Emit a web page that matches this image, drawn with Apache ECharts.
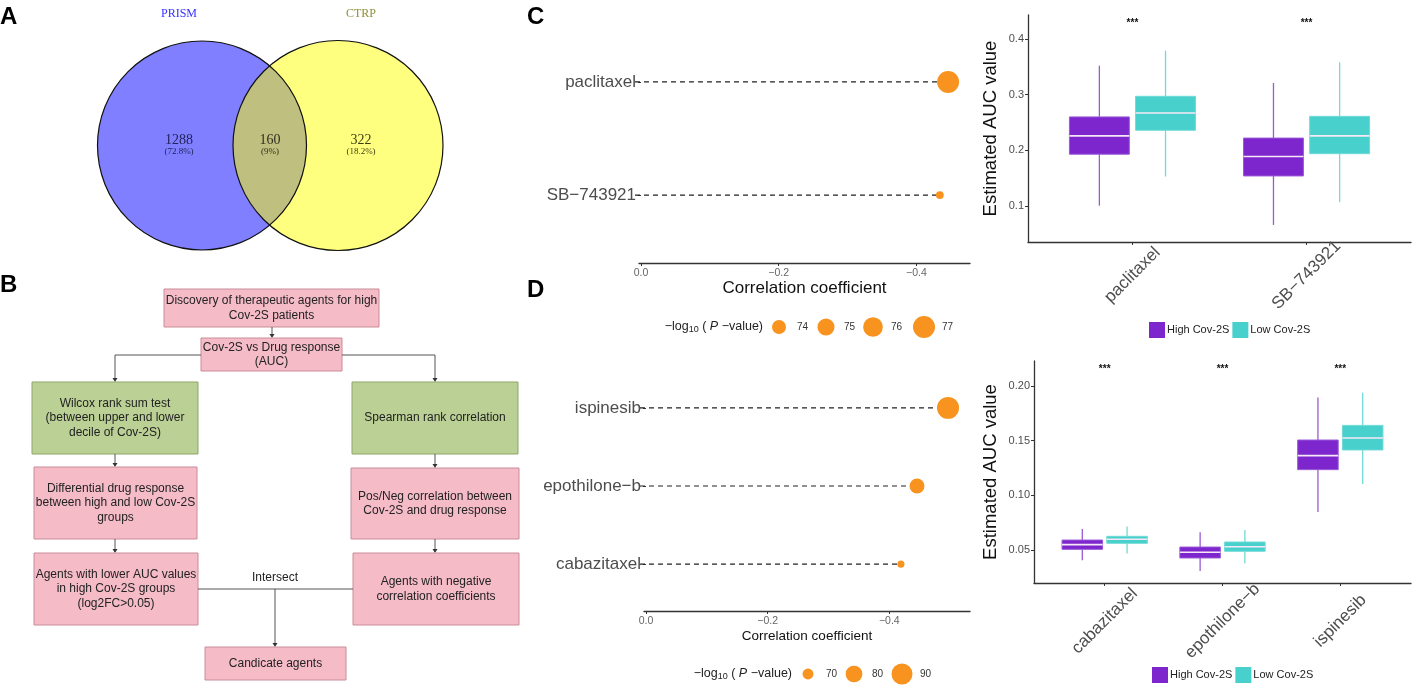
<!DOCTYPE html>
<html><head><meta charset="utf-8">
<script src="https://cdn.jsdelivr.net/npm/echarts@6/dist/echarts.min.js"></script>
<style>html,body{margin:0;padding:0;background:#fff}#c{width:1417px;height:690px}</style>
</head><body><div id="c"></div>
<script>
// ---------- DATA ----------
const vennSets = ['PRISM', 'CTRP'];
const vennCounts = [1288, 160, 322];
const vennPct = ['(72.8%)', '(9%)', '(18.2%)'];

const flowTop = ['Discovery of therapeutic agents for high', 'Cov-2S patients'];
const flowSecond = ['Cov-2S vs Drug response', '(AUC)'];
const flowLeft = [
  ['Wilcox rank sum test', '(between upper and lower', 'decile of Cov-2S)'],
  ['Differential drug response', 'between high and low Cov-2S', 'groups'],
  ['Agents with lower AUC values', 'in high Cov-2S groups', '(log2FC>0.05)']
];
const flowRight = [
  ['Spearman rank correlation'],
  ['Pos/Neg correlation between', 'Cov-2S and drug response'],
  ['Agents with negative', 'correlation coefficients']
];
const flowJoin = 'Intersect';
const flowEnd = ['Candicate agents'];

const corrDrugsC = ['SB\u2212743921', 'paclitaxel'];
const corrValsC = [-0.434, -0.446];
const logPC = [72.6, 77.0];
const sizeLegendC = [74, 75, 76, 77];

const corrDrugsD = ['cabazitaxel', 'epothilone\u2212b', 'ispinesib'];
const corrValsD = [-0.419, -0.4455, -0.4965];
const logPD = [65.6, 76.6, 92.7];
const sizeLegendD = [70, 80, 90];
const corrTicks = [0, -0.2, -0.4];

const groups = ['High Cov-2S', 'Low Cov-2S'];
// [min, q1, median, q3, max]
const boxDrugsC = ['paclitaxel', 'SB\u2212743921'];
const boxHighC = [[0.1006, 0.193, 0.226, 0.260, 0.352], [0.066, 0.154, 0.189, 0.222, 0.321]];
const boxLowC  = [[0.153, 0.236, 0.267, 0.297, 0.379], [0.107, 0.194, 0.226, 0.261, 0.358]];
const signifC = ['***', '***'];
const yTicksC = [0.1, 0.2, 0.3, 0.4];

const boxDrugsD = ['cabazitaxel', 'epothilone\u2212b', 'ispinesib'];
const boxHighD = [[0.0405, 0.0506, 0.0549, 0.0591, 0.0692], [0.0308, 0.0427, 0.0479, 0.0527, 0.0662], [0.0848, 0.1235, 0.1363, 0.1506, 0.1896]];
const boxLowD  = [[0.0467, 0.0561, 0.0598, 0.0625, 0.0716], [0.0378, 0.0488, 0.0530, 0.0573, 0.0683], [0.1104, 0.1415, 0.1524, 0.1640, 0.1939]];
const signifD = ['***', '***', '***'];
const yTicksD = [0.05, 0.10, 0.15, 0.20];

// ---------- STYLE ----------
const SANS = 'Liberation Sans, Arial, sans-serif';
const SERIF = 'Liberation Serif, DejaVu Serif, serif';
const ORANGE = '#F7931E';
const PURPLE = '#7D26CD', PURPLE_EDGE = '#9A5AD6';
const TURQ = '#48D1CC', TURQ_EDGE = '#6FDAD6';
const PINK = '#F5BCC8', PINK_EDGE = '#C98C99';
const GREEN = '#BBD095', GREEN_EDGE = '#8EA767';
const LINE = '#555';
const GREY_TXT = '#4D4D4D';

const chart = echarts.init(document.getElementById('c'), null, {renderer: 'canvas'});

// ---------- GRAPHIC: letters, venn, flowchart, size legends ----------
const g = [];
function letter(t, x, y) {
  g.push({type: 'text', x, y, style: {text: t, font: 'bold 24px ' + SANS, fill: '#000', align: 'left', verticalAlign: 'top'}});
}
letter('A', 0, 5); letter('B', 0, 273); letter('C', 527, 5); letter('D', 527, 278);

// Venn
const vc = [[202, 145.5, 104.5], [338, 145.5, 105]];
g.push({type: 'circle', shape: {cx: vc[0][0], cy: vc[0][1], r: vc[0][2]}, style: {fill: 'rgba(0,0,255,0.5)', stroke: null}});
g.push({type: 'circle', shape: {cx: vc[1][0], cy: vc[1][1], r: vc[1][2]}, style: {fill: 'rgba(255,255,0,0.5)', stroke: null}});
vc.forEach(c => g.push({type: 'circle', shape: {cx: c[0], cy: c[1], r: c[2]}, style: {fill: null, stroke: '#111', lineWidth: 1.2}}));
const vennTitleCol = ['#3333ff', '#8f8f3a'];
g.push({type: 'text', x: 179, y: 14, style: {text: vennSets[0], font: '12px ' + SERIF, fill: vennTitleCol[0], align: 'center', verticalAlign: 'middle'}});
g.push({type: 'text', x: 361, y: 14, style: {text: vennSets[1], font: '12px ' + SERIF, fill: vennTitleCol[1], align: 'center', verticalAlign: 'middle'}});
const vennX = [179, 270, 361];
const vennNumCol = ['#22225a', '#2f2f1e', '#3d3d14'];
vennCounts.forEach((n, i) => {
  g.push({type: 'text', x: vennX[i], y: 140, style: {text: String(n), font: '14px ' + SERIF, fill: vennNumCol[i], align: 'center', verticalAlign: 'middle'}});
  g.push({type: 'text', x: vennX[i], y: 151.5, style: {text: vennPct[i], font: '9px ' + SERIF, fill: vennNumCol[i], align: 'center', verticalAlign: 'middle'}});
});

// Flowchart
function box(x1, y1, x2, y2, fill, stroke, lines) {
  g.push({type: 'rect', shape: {x: x1, y: y1, width: x2 - x1, height: y2 - y1}, style: {fill, stroke, lineWidth: 1}});
  g.push({type: 'text', x: (x1 + x2) / 2, y: (y1 + y2) / 2, style: {text: lines.join('\n'), font: '12px ' + SANS, fill: '#222', align: 'center', verticalAlign: 'middle', lineHeight: 14.5}});
}
function seg(x1, y1, x2, y2) {
  g.push({type: 'line', shape: {x1, y1, x2, y2}, style: {stroke: LINE, lineWidth: 1}});
}
function arrowDown(x, y1, y2) {
  seg(x, y1, x, y2 - 3);
  g.push({type: 'polygon', shape: {points: [[x - 2.5, y2 - 4], [x + 2.5, y2 - 4], [x, y2]]}, style: {fill: '#333'}});
}
box(164, 289, 379, 327, PINK, PINK_EDGE, flowTop);
arrowDown(272, 327, 338);
box(201, 338, 342, 371, PINK, PINK_EDGE, flowSecond);
seg(201, 355, 115, 355); arrowDown(115, 355, 382);
seg(342, 355, 435, 355); arrowDown(435, 355, 382);
box(32, 382, 198, 454, GREEN, GREEN_EDGE, flowLeft[0]);
box(352, 382, 518, 454, GREEN, GREEN_EDGE, flowRight[0]);
arrowDown(115, 454, 467); arrowDown(435, 454, 468);
box(34, 467, 197, 539, PINK, PINK_EDGE, flowLeft[1]);
box(351, 468, 519, 539, PINK, PINK_EDGE, flowRight[1]);
arrowDown(115, 539, 553); arrowDown(435, 539, 553);
box(34, 553, 198, 625, PINK, PINK_EDGE, flowLeft[2]);
box(353, 553, 519, 625, PINK, PINK_EDGE, flowRight[2]);
seg(198, 589, 353, 589);
arrowDown(275, 589, 647);
g.push({type: 'text', x: 275, y: 578, style: {text: flowJoin, font: '12px ' + SANS, fill: '#222', align: 'center', verticalAlign: 'middle'}});
box(205, 647, 346, 680, PINK, PINK_EDGE, flowEnd);

// size legends
const rC = v => Math.sqrt(Math.max(4, 49 + 24 * (v - 74)));
const rD = v => Math.sqrt(Math.max(4, 30 + 4 * (v - 70)));
const legRich = {n: {fontSize: 12.5, fontFamily: SANS, fill: '#222'}, s: {fontSize: 9, fontFamily: SANS, fill: '#222', padding: [6, 0, 0, 0]}, i: {fontSize: 12.5, fontFamily: SANS, fontStyle: 'italic', fill: '#222'}};
const legText = '{n|\u2212log}{s|10}{n| ( }{i|P}{n| \u2212value)}';
function sizeLegend(vals, rfun, titleRight, y, xs) {
  g.push({type: 'text', x: titleRight, y, style: {text: legText, align: 'right', verticalAlign: 'middle', rich: legRich}});
  vals.forEach((v, i) => {
    g.push({type: 'circle', shape: {cx: xs[i], cy: y, r: rfun(v)}, style: {fill: ORANGE}});
    g.push({type: 'text', x: xs[i] + 23.5, y, style: {text: String(v), font: '10px ' + SANS, fill: '#333', align: 'center', verticalAlign: 'middle'}});
  });
}
sizeLegend(sizeLegendC, rC, 763, 327, [779, 826, 873, 924]);
sizeLegend(sizeLegendD, rD, 792, 674, [808, 854, 902]);

// ---------- AXES ----------
const corrFmt = v => (Math.abs(v) < 1e-9 ? '0.0' : (v < 0 ? '\u2212' : '') + Math.abs(v).toFixed(1));

function corrX(gi, min, max, nameSize, nameGap) {
  return {type: 'value', gridIndex: gi, inverse: true, min, max,
    axisLine: {show: true, lineStyle: {color: '#333', width: 1.3}},
    axisTick: {show: true, customValues: corrTicks, length: 3, lineStyle: {color: '#333'}},
    axisLabel: {customValues: corrTicks, formatter: corrFmt, color: '#666', fontSize: 10.5, fontFamily: SANS, margin: 5},
    splitLine: {show: false},
    name: 'Correlation coefficient', nameLocation: 'middle', nameGap,
    nameTextStyle: {fontSize: nameSize, fontFamily: SANS, color: '#111'}};
}
function corrY(gi, cats) {
  const vals = cats.map((c, i) => i + 1);
  return {type: 'value', gridIndex: gi, min: 0.4, max: cats.length + 0.6,
    axisLine: {show: false},
    axisTick: {show: true, customValues: vals, length: 3, lineStyle: {color: '#333'}},
    axisLabel: {customValues: vals, formatter: v => cats[Math.round(v) - 1], color: GREY_TXT, fontSize: 17, fontFamily: SANS, margin: 3},
    splitLine: {show: false}};
}
function boxX(gi, cats, margin) {
  const vals = cats.map((c, i) => i + 1);
  return {type: 'value', gridIndex: gi, min: 0.4, max: cats.length + 0.6,
    axisLine: {show: true, lineStyle: {color: '#333', width: 1.3}},
    axisTick: {show: true, customValues: vals, length: 3, lineStyle: {color: '#333'}},
    axisLabel: {customValues: vals, formatter: v => cats[Math.round(v) - 1], rotate: 45, align: 'center', verticalAlign: 'middle',
      color: GREY_TXT, fontSize: 17, fontFamily: SANS, margin},
    splitLine: {show: false}};
}
function boxY(gi, min, max, ticks, dec, nameGap) {
  return {type: 'value', gridIndex: gi, min, max,
    axisLine: {show: true, lineStyle: {color: '#333', width: 1.3}},
    axisTick: {show: true, customValues: ticks, length: 3, lineStyle: {color: '#333'}},
    axisLabel: {customValues: ticks, formatter: v => v.toFixed(dec), color: GREY_TXT, fontSize: 11, fontFamily: SANS, margin: 4},
    splitLine: {show: false},
    name: 'Estimated AUC value', nameLocation: 'middle', nameGap, nameRotate: 90,
    nameTextStyle: {fontSize: 18.5, fontFamily: SANS, color: '#111'}};
}

// ---------- SERIES ----------
function dashSeries(vals, xi) {
  return {type: 'custom', xAxisIndex: xi, yAxisIndex: xi, silent: true, z: 2,
    data: vals.map((v, i) => [v, i + 1]),
    encode: {x: 0, y: 1},
    renderItem(params, api) {
      const p0 = api.coord([0, api.value(1)]);
      const p1 = api.coord([api.value(0), api.value(1)]);
      return {type: 'line', shape: {x1: p0[0] - 6, y1: p0[1], x2: p1[0], y2: p1[1]}, style: {stroke: '#222', lineWidth: 1.2, lineDash: [5, 4]}};
    }};
}
function dotSeries(vals, logp, rfun, xi) {
  return {type: 'scatter', xAxisIndex: xi, yAxisIndex: xi, z: 3, silent: true,
    data: vals.map((v, i) => [v, i + 1, logp[i]]),
    symbolSize: d => 2 * rfun(d[2]),
    itemStyle: {color: ORANGE, opacity: 1}};
}
function boxSeries(name, data, xi, side, fill, edge) {
  return {type: 'custom', name, xAxisIndex: xi, yAxisIndex: xi, z: 3, silent: true,
    itemStyle: {color: fill},
    data: data.map((d, i) => [i + 1].concat(d)),
    encode: {x: 0, y: [1, 2, 3, 4, 5]},
    renderItem(params, api) {
      const x = api.value(0) + side * 0.19;
      const hw = 0.172;
      const pMin = api.coord([x, api.value(1)]);
      const pQ1 = api.coord([x, api.value(2)]);
      const pMed = api.coord([x, api.value(3)]);
      const pQ3 = api.coord([x, api.value(4)]);
      const pMax = api.coord([x, api.value(5)]);
      const l = api.coord([x - hw, api.value(3)])[0];
      const r = api.coord([x + hw, api.value(3)])[0];
      return {type: 'group', children: [
        {type: 'line', shape: {x1: pMax[0], y1: pMax[1], x2: pQ3[0], y2: pQ3[1]}, style: {stroke: edge, lineWidth: 1.3}},
        {type: 'line', shape: {x1: pQ1[0], y1: pQ1[1], x2: pMin[0], y2: pMin[1]}, style: {stroke: edge, lineWidth: 1.3}},
        {type: 'rect', shape: {x: l, y: pQ3[1], width: r - l, height: pQ1[1] - pQ3[1]}, style: {fill: fill, stroke: edge, lineWidth: 1}},
        {type: 'line', shape: {x1: l, y1: pMed[1], x2: r, y2: pMed[1]}, style: {stroke: '#F6E8F6', lineWidth: 1.6}}
      ]};
    }};
}
function signifSeries(sig, xi) {
  return {type: 'custom', xAxisIndex: xi, yAxisIndex: xi, silent: true, z: 4,
    data: sig.map((s, i) => [i + 1]),
    renderItem(params, api) {
      const cx = api.coord([api.value(0), 0])[0];
      return {type: 'text', x: cx, y: params.coordSys.y + 8, style: {text: sig[params.dataIndex], font: 'bold 10px ' + SANS, fill: '#111', align: 'center', verticalAlign: 'middle'}};
    }};
}

const option = {
  animation: false,
  backgroundColor: '#fff',
  graphic: {elements: g},
  grid: [
    {left: 639, top: 14, width: 331, height: 249},
    {left: 1028, top: 15, width: 383, height: 227},
    {left: 644, top: 361, width: 326, height: 250},
    {left: 1034, top: 361, width: 377, height: 222}
  ],
  xAxis: [
    corrX(0, -0.4778, 0.0029, 17, 17),
    boxX(1, boxDrugsC, 33),
    corrX(2, -0.5326, 0.0033, 13.5, 18),
    boxX(3, boxDrugsD, 38)
  ],
  yAxis: [
    corrY(0, corrDrugsC),
    boxY(1, 0.0354, 0.443, yTicksC, 1, 28),
    corrY(2, corrDrugsD),
    boxY(3, 0.0198, 0.2229, yTicksD, 2, 34)
  ],
  legend: [
    {left: 1149, top: 322, itemWidth: 16, itemHeight: 16, itemGap: 3, padding: 0, selectedMode: false,
      data: groups.map(n => ({name: n, icon: 'rect'})), textStyle: {fontSize: 11, fontFamily: SANS, color: '#222', padding: [0, 0, 0, -3]}},
    {left: 1152, top: 667, itemWidth: 16, itemHeight: 16, itemGap: 3, padding: 0, selectedMode: false,
      data: groups.map(n => ({name: n, icon: 'rect'})), textStyle: {fontSize: 11, fontFamily: SANS, color: '#222', padding: [0, 0, 0, -3]}}
  ],
  series: [
    dashSeries(corrValsC, 0), dotSeries(corrValsC, logPC, rC, 0),
    dashSeries(corrValsD, 2), dotSeries(corrValsD, logPD, rD, 2),
    boxSeries(groups[0], boxHighC, 1, -1, PURPLE, PURPLE_EDGE),
    boxSeries(groups[1], boxLowC, 1, 1, TURQ, TURQ_EDGE),
    signifSeries(signifC, 1),
    boxSeries(groups[0], boxHighD, 3, -1, PURPLE, PURPLE_EDGE),
    boxSeries(groups[1], boxLowD, 3, 1, TURQ, TURQ_EDGE),
    signifSeries(signifD, 3)
  ]
};
chart.setOption(option);
</script>
</body></html>
